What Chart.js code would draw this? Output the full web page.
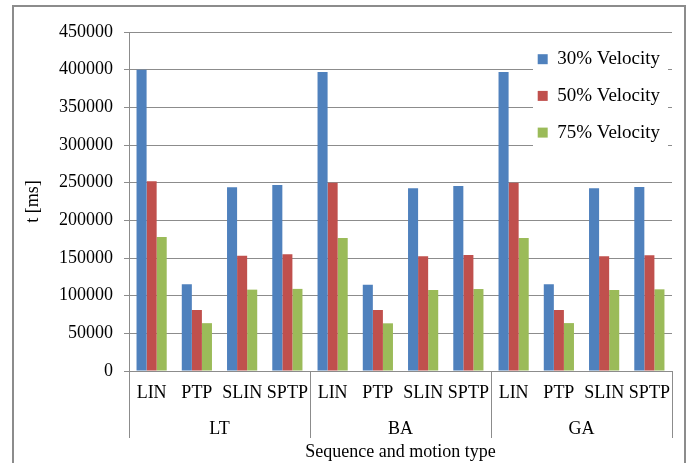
<!DOCTYPE html>
<html>
<head>
<meta charset="utf-8">
<script src="https://cdn.jsdelivr.net/npm/chart.js@4/dist/chart.umd.min.js"></script>
<style>
  html, body { margin: 0; padding: 0; background: #fff; }
  #wrap { position: relative; width: 689px; height: 463px; overflow: hidden; }
  #frame { position: absolute; left: 12px; top: 5px; width: 674px; height: 520px;
           box-sizing: border-box; border: 2px solid #8c8c8c; pointer-events: none; }
  canvas { position: absolute; left: 0; top: 0; }
</style>
</head>
<body>
<div id="wrap">
  <canvas id="chart" width="689" height="463"></canvas>
  <div id="frame"></div>
</div>
<script>
// Sequences (outer axis level) and motion types (inner axis level)
const sequences = ['LT', 'BA', 'GA'];
const motionTypes = ['LIN', 'PTP', 'SLIN', 'SPTP'];

// Cycle time in ms, one value per sequence/motion pair (LT..., BA..., GA...)
const velocity30 = [400000, 115000, 244000, 247000, 397000, 114600, 242500, 245500, 397000, 115000, 242500, 244200];
const velocity50 = [252000, 81000, 153000, 155000, 250000, 81000, 152200, 154000, 250000, 81000, 152200, 153600];
const velocity75 = [178000, 63500, 108000, 109000, 176500, 63300, 107500, 108800, 176500, 63600, 107500, 108400];

const seriesNames = ['30% Velocity', '50% Velocity', '75% Velocity'];
const yTickValues = [0, 50000, 100000, 150000, 200000, 250000, 300000, 350000, 400000, 450000];

const categories = sequences.flatMap(() => motionTypes);

const axisGray = '#8c8c8c';
Chart.defaults.font.family = '"Liberation Serif", "Times New Roman", serif';
Chart.defaults.color = '#000';

// Places the legend in the upper right of the plot on a white panel
const legendPanel = {
  id: 'legendPanel',
  afterLayout(chart) {
    const lg = chart.legend;
    const area = chart.chartArea;
    lg.left = area.right - 152;
    lg.right = area.right;
    lg.top = area.top;
    lg.bottom = area.bottom;
    if (!lg._panelDraw) {
      lg._panelDraw = lg.draw;
      lg.draw = function () {
        const a = this.chart.chartArea;
        const c = this.ctx;
        c.save();
        c.fillStyle = '#ffffff';
        c.fillRect(a.right - 139, a.top + 8, 135, 120);
        c.restore();
        this._panelDraw();
      };
    }
  }
};

new Chart(document.getElementById('chart'), {
  type: 'bar',
  data: {
    labels: categories,
    datasets: [
      { label: seriesNames[0], data: velocity30, backgroundColor: '#4f81bd', xAxisID: 'x' },
      { label: seriesNames[1], data: velocity50, backgroundColor: '#c0504d', xAxisID: 'x' },
      { label: seriesNames[2], data: velocity75, backgroundColor: '#9bbb59', xAxisID: 'x' }
    ]
  },
  plugins: [legendPanel],
  options: {
    responsive: false,
    animation: false,
    devicePixelRatio: 1,
    layout: { padding: { left: 0, top: 32, right: 17, bottom: 0 } },
    datasets: { bar: { barPercentage: 1, categoryPercentage: 0.667, borderWidth: 0 } },
    plugins: {
      tooltip: { enabled: false },
      legend: {
        position: 'chartArea',
        align: 'start',
        labels: {
          font: { size: 19 },
          color: '#000',
          boxWidth: 10,
          boxHeight: 10,
          padding: 17.7
        }
      }
    },
    scales: {
      x: {
        type: 'category',
        position: 'bottom',
        offset: true,
        grid: {
          offset: true,
          drawOnChartArea: false,
          tickLength: 67,
          color: (ctx) => (ctx.type !== 'tick' || ctx.index % motionTypes.length === 0) ? axisGray : 'rgba(0,0,0,0)'
        },
        border: { color: axisGray },
        ticks: { font: { size: 18 }, color: '#000', padding: -56, maxRotation: 0, autoSkip: false },
        afterFit(s) { s.height = 40; }
      },
      x2: {
        type: 'category',
        position: 'bottom',
        labels: sequences,
        offset: true,
        grid: { display: false },
        border: { display: false },
        ticks: { font: { size: 18 }, color: '#000', padding: -1, maxRotation: 0 },
        title: {
          display: true,
          text: 'Sequence and motion type',
          font: { size: 18 },
          color: '#000',
          padding: { top: 0, bottom: 0 }
        },
        afterFit(s) { s.height = 52; }
      },
      y: {
        min: 0,
        max: 450000,
        afterBuildTicks(s) { s.ticks = yTickValues.map(v => ({ value: v })); },
        ticks: { font: { size: 18 }, color: '#000', padding: 11, callback: (v) => String(v) },
        grid: { color: axisGray, tickLength: 5 },
        border: { color: axisGray },
        title: {
          display: true,
          text: 't [ms]',
          font: { size: 18 },
          color: '#000',
          padding: { top: 22, bottom: 0 }
        },
        afterFit(s) { s.width = 129; }
      }
    }
  }
});
</script>
</body>
</html>
